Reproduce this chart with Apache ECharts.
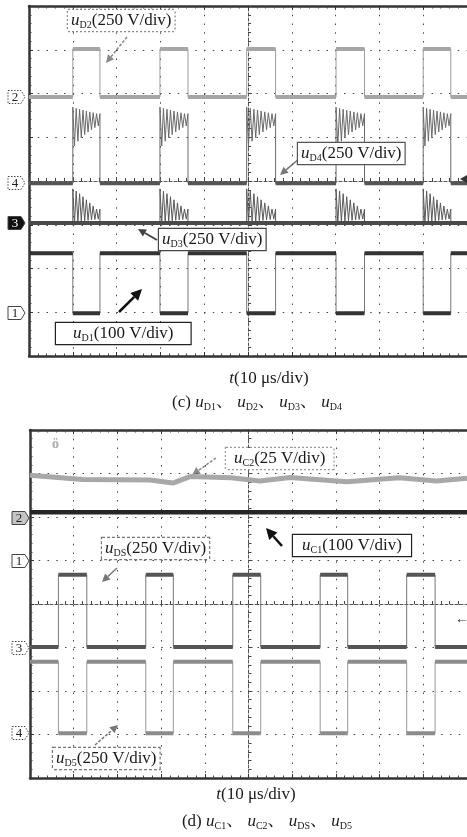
<!DOCTYPE html>
<html><head><meta charset="utf-8">
<script src="https://cdn.jsdelivr.net/npm/echarts@6/dist/echarts.min.js"></script>
<style>html,body{margin:0;padding:0;background:#fff}#c{width:467px;height:837px}</style>
</head><body><div id="c"></div>
<script>
// ---------- Panel (c): time in divisions (10 us/div), levels in divisions from screen bottom ----------
const pulseStartC = [1.0, 2.99, 4.97, 7.01, 9.0];
const pulseEndC   = [1.62, 3.63, 5.63, 7.66, 9.63];
const uD2Levels = [5.92, 7.02];          // [off, on]
const uD1Levels = [2.35, 0.98];          // [off, on]
const uD4Base = 3.95;
const uD4RingPeak   = [1.74, 1.71, 1.69, 1.67, 1.65, 1.63, 1.61, 1.59];
const uD4RingTrough = [0.85, 0.96, 1.04, 1.11, 1.17, 1.22, 1.27, 1.31];
const uD3Base = 3.04;
const uD3RingPeak   = [0.78, 0.73, 0.67, 0.60, 0.53, 0.46, 0.39, 0.32];
const uD3RingTrough = [0.0, 0.02, 0.04, 0.05, 0.06, 0.07, 0.08, 0.09];

// ---------- Panel (d) ----------
const pulseStartD = [0.65, 2.65, 4.64, 6.64, 8.62];
const pulseEndD   = [1.30, 3.28, 5.28, 7.27, 9.27];
const uDSLevels = [3.01, 4.67];
const uD5Levels = [2.67, 1.03];
const uC1X = [0, 10];
const uC1Y = [6.11, 6.11];
const uC2X = [0, 1.2, 2.75, 3.27, 3.66, 4.6, 5.26, 5.95, 7.25, 8.45, 9.31, 10];
const uC2Y = [6.96, 6.86, 6.85, 6.78, 6.93, 6.90, 6.83, 6.91, 6.81, 6.90, 6.83, 6.89];

const XMAX = 10;
function stepWave(starts, ends, lv){
  const p=[[0,lv[0]]];
  starts.forEach((s,i)=>{p.push([s,lv[0]],[s,lv[1]],[ends[i],lv[1]],[ends[i],lv[0]]);});
  p.push([XMAX,lv[0]]); return p;
}
function levelSegs(starts, ends, lv){
  const p=[[0,lv[0]]];
  starts.forEach((s,i)=>{p.push([s,lv[0]],[s,'-'],[s,lv[1]],[ends[i],lv[1]],[ends[i],'-'],[ends[i],lv[0]]);});
  p.push([XMAX,lv[0]]); return p;
}
function baseSegs(starts, ends, base){
  const p=[[0,base]];
  starts.forEach((s,i)=>{p.push([s,base],[s,'-'],[ends[i],'-'],[ends[i],base]);});
  p.push([XMAX,base]); return p;
}
function ringWave(starts, ends, base, peaks, troughs){
  const p=[[0,base]];
  starts.forEach((s,i)=>{
    const e=ends[i], n=peaks.length, st=(e-s)/(2*n);
    p.push([s,base]);
    for(let k=0;k<n;k++){p.push([s+2*k*st,base+peaks[k]],[s+(2*k+1)*st,base+troughs[k]]);}
    p.push([e,base+peaks[n-1]],[e,base]);
  });
  p.push([XMAX,base]); return p;
}
function zip(xs, ys){return xs.map((x,i)=>[x,ys[i]]);}

const SERIF='"Liberation Serif","Noto Serif CJK SC","Noto Sans CJK SC",serif';
const gridC={left:29, top:6, width:438, height:350};
const gridD={left:30, top:430, width:437, height:348};
const dotted={type:[1.5,7.25], color:'#444', width:1};

function mainX(gi){return {gridIndex:gi,type:'value',min:0,max:10,interval:1,position:'bottom',
  axisLabel:{show:false},axisLine:{show:true,onZero:false,lineStyle:{color:'#333',width:2.5}},
  axisTick:{show:true,inside:true,length:4,lineStyle:{color:'#333'}},
  minorTick:{show:true,splitNumber:5,length:2.5,lineStyle:{color:'#444'}},
  splitLine:{show:true,lineStyle:dotted}};}
function topX(gi){return {gridIndex:gi,type:'value',min:0,max:10,interval:1,position:'top',
  axisLabel:{show:false},axisLine:{show:true,onZero:false,lineStyle:{color:'#333',width:2.5}},
  axisTick:{show:true,inside:true,length:4,lineStyle:{color:'#333'}},
  minorTick:{show:true,splitNumber:5,length:2.5,lineStyle:{color:'#444'}},splitLine:{show:false}};}
function centerX(gi,off){return {gridIndex:gi,type:'value',min:0,max:10,interval:1,position:'bottom',offset:off,
  axisLabel:{show:false},axisLine:{show:true,onZero:false,lineStyle:{color:'#555',width:1,type:[3,2]}},
  axisTick:{show:true,inside:true,length:4,lineStyle:{color:'#444'}},
  minorTick:{show:true,splitNumber:5,length:3,lineStyle:{color:'#444'}},splitLine:{show:false}};}
function mainY(gi){return {gridIndex:gi,type:'value',min:0,max:8,interval:1,position:'left',
  axisLabel:{show:false},axisLine:{show:true,onZero:false,lineStyle:{color:'#333',width:2.5}},
  axisTick:{show:true,inside:true,length:4,lineStyle:{color:'#333'}},
  minorTick:{show:true,splitNumber:5,length:2.5,lineStyle:{color:'#444'}},
  splitLine:{show:true,lineStyle:dotted}};}
function centerY(gi,off){return {gridIndex:gi,type:'value',min:0,max:8,interval:1,position:'left',offset:off,
  axisLabel:{show:false},axisLine:{show:true,onZero:false,lineStyle:{color:'#555',width:1,type:[3,2]}},
  axisTick:{show:true,inside:true,length:4,lineStyle:{color:'#444'}},
  minorTick:{show:true,splitNumber:5,length:3,lineStyle:{color:'#444'}},splitLine:{show:false}};}

function ln(data,xi,yi,color,w,z){return {type:'line',data,xAxisIndex:xi,yAxisIndex:yi,showSymbol:false,symbol:'none',
  silent:true,animation:false,z:z||3,lineStyle:{color,width:w},itemStyle:{color}};}

// ----- annotation helpers -----
function rich(sz){return {
  u:{fontFamily:SERIF,fontStyle:'italic',fontSize:sz,fill:'#1a1a1a',lineHeight:sz+2},
  s:{fontFamily:SERIF,fontSize:Math.round(sz*0.6),fill:'#1a1a1a',verticalAlign:'bottom',lineHeight:Math.round(sz*0.75)},
  n:{fontFamily:SERIF,fontSize:sz,fill:'#1a1a1a',lineHeight:sz+2},
  t:{fontFamily:SERIF,fontStyle:'italic',fontSize:sz,fill:'#1a1a1a',lineHeight:sz+2}};}
function labelBox(x,y,sub,rest,border,dash,padH){
  return {type:'text',x,y,z:100,style:{text:'{u|u}{s|'+sub+'}{n|'+rest+'}',rich:rich(17),
    backgroundColor:'#fff',borderColor:border,borderWidth:1.2,borderDash:dash,padding:[1,padH||3,1,padH||3]}};
}
function arrow(x1,y1,x2,y2,color,w,dash,L,W){
  L=L||8;W=W||4;
  const a=Math.atan2(y2-y1,x2-x1), bx=x2-L*Math.cos(a), by=y2-L*Math.sin(a), px=-Math.sin(a)*W, py=Math.cos(a)*W;
  return {type:'group',z:100,children:[
    {type:'line',shape:{x1,y1,x2:bx,y2:by},style:{stroke:color,lineWidth:w,lineDash:dash}},
    {type:'polygon',shape:{points:[[x2,y2],[bx+px,by+py],[bx-px,by-py]]},style:{fill:color}}]};
}
function chMarker(label,x,y,kind){
  const w=13,h=13;
  const fill=kind==='fill'?'#111':(kind==='shade'?'#c4c4c4':'#fff');
  return {type:'group',z:100,children:[
    {type:'polygon',shape:{points:[[x,y-h/2],[x+w,y-h/2],[x+w+4,y],[x+w,y+h/2],[x,y+h/2]]},
     style:{fill,stroke:'#444',lineWidth:1,lineDash:kind==='dot'?[1.5,1.5]:null}},
    {type:'text',x:x+w/2+0.5,y:y+0.5,style:{text:label,font:'13px '+SERIF,fill:kind==='fill'?'#fff':'#222',
     align:'center',verticalAlign:'middle',textAlign:'center',textVerticalAlign:'middle'}}]};
}
function centerText(x,y,text,sz){return {type:'text',x,y,z:100,style:{text,rich:rich(sz),align:'center',verticalAlign:'middle',textAlign:'center',textVerticalAlign:'middle'}};}

const option={
  animation:false,
  backgroundColor:'#fff',
  grid:[gridC,gridD],
  xAxis:[mainX(0),topX(0),centerX(0,-175),mainX(1),topX(1),centerX(1,-174)],
  yAxis:[mainY(0),centerY(0,-219),mainY(1),centerY(1,-218.5)],
  series:[
    // panel (c)
    ln(stepWave(pulseStartC,pulseEndC,uD2Levels),0,0,'#9c9c9c',1),
    ln(levelSegs(pulseStartC,pulseEndC,uD2Levels),0,0,'#a6a6a6',4),
    ln(ringWave(pulseStartC,pulseEndC,uD4Base,uD4RingPeak,uD4RingTrough),0,0,'#6a6a6a',1),
    ln(baseSegs(pulseStartC,pulseEndC,uD4Base),0,0,'#555',4),
    ln(ringWave(pulseStartC,pulseEndC,uD3Base,uD3RingPeak,uD3RingTrough),0,0,'#5a5a5a',1),
    ln(zip([0,XMAX],[uD3Base,uD3Base]),0,0,'#4a4a4a',4),
    ln(stepWave(pulseStartC,pulseEndC,uD1Levels),0,0,'#777',1),
    ln(levelSegs(pulseStartC,pulseEndC,uD1Levels),0,0,'#333',4),
    // panel (d)
    ln(zip(uC2X,uC2Y),3,2,'#a8a8a8',5),
    ln(zip(uC1X,uC1Y),3,2,'#262626',4.5),
    ln(stepWave(pulseStartD,pulseEndD,uDSLevels),3,2,'#777',1),
    ln(levelSegs(pulseStartD,pulseEndD,uDSLevels),3,2,'#555',4),
    ln(stepWave(pulseStartD,pulseEndD,uD5Levels),3,2,'#999',1),
    ln(levelSegs(pulseStartD,pulseEndD,uD5Levels),3,2,'#8c8c8c',4)
  ],
  graphic:[
    // panel (c) labels
    labelBox(68,10,'D2','(250 V/div)','#888',[2,2]),
    arrow(127,37,106,63,'#8a8a8a',1.5,[3,1.5]),
    labelBox(298,143,'D4','(250 V/div)','#555',null),
    arrow(300,158,280,175,'#777',1.5,null),
    labelBox(159,229,'D3','(250 V/div)','#444',null),
    arrow(157,240,138,229,'#444',2,null),
    labelBox(56,323,'D1','(100 V/div)','#222',null,17),
    arrow(119,312,142,289,'#111',2.5,null,11,5.5),
    chMarker('2',8,97,'dot'),
    chMarker('4',8,183,'dot'),
    chMarker('3',8,223,'fill'),
    chMarker('1',8,313,'solid'),
    {type:'polygon',z:100,shape:{points:[[460,179],[467,175],[467,183]]},style:{fill:'#333'}},
    centerText(269,379,'{t|t}{n|(10 μs/div)}',17),
    centerText(257,403,'{n|(c) }{u|u}{s|D1}{n|、 }{u|u}{s|D2}{n|、 }{u|u}{s|D3}{n|、 }{u|u}{s|D4}',17),
    // panel (d) labels
    labelBox(226,448,'C2','(25 V/div)','#999',[2,2],8),
    arrow(216,458,192,475,'#8a8a8a',1.5,[3,1.5]),
    labelBox(293,535,'C1','(100 V/div)','#222',null,9),
    arrow(282,546,266,528,'#111',2.5,null,11,5.5),
    labelBox(102,538,'DS','(250 V/div)','#777',[3,2]),
    arrow(117,568,102,582,'#777',1.5,null),
    labelBox(53,748,'D5','(250 V/div)','#777',[3,2]),
    arrow(95,745,118,725,'#777',1.5,[3,1.5]),
    {type:'text',x:52,y:437,z:100,style:{text:'ö',font:'bold 14px '+SERIF,fill:'#aaa'}},
    chMarker('2',12,518,'shade'),
    chMarker('1',12,561,'solid'),
    chMarker('3',12,648,'dot'),
    chMarker('4',12,733,'dot'),
    {type:'text',x:455,y:612,z:100,style:{text:'←',font:'14px '+SERIF,fill:'#333'}},
    centerText(256,795,'{t|t}{n|(10 μs/div)}',17),
    centerText(267,822,'{n|(d) }{u|u}{s|C1}{n|、 }{u|u}{s|C2}{n|、 }{u|u}{s|DS}{n|、 }{u|u}{s|D5}',17)
  ]
};
const chart=echarts.init(document.getElementById('c'),null,{renderer:'canvas'});
chart.setOption(option);
</script>
</body></html>
